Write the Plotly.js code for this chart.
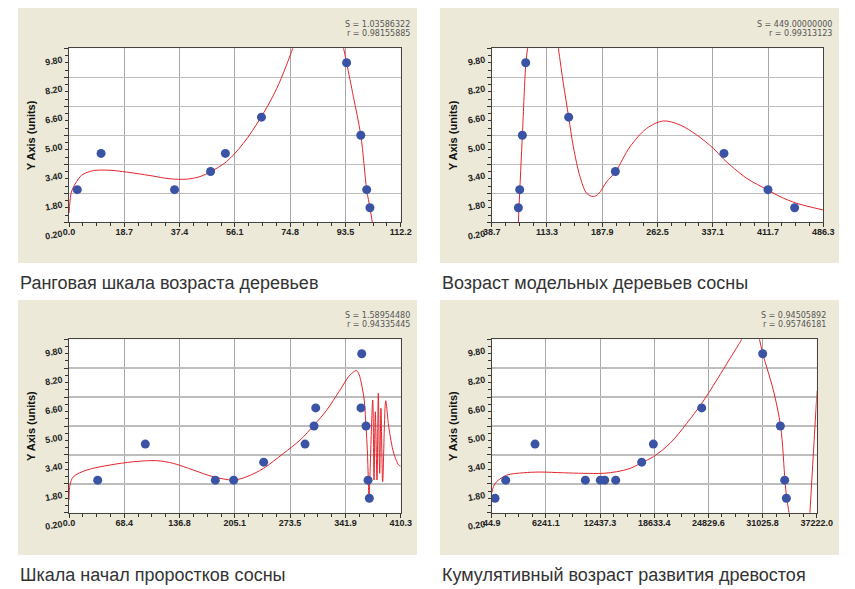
<!DOCTYPE html>
<html>
<head>
<meta charset="utf-8">
<script src="https://cdn.plot.ly/plotly-3.0.1.min.js"></script>
<style>
  html, body { margin: 0; padding: 0; background: #fff; }
  #chart { width: 855px; height: 589px; }
</style>
</head>
<body>
<div id="chart"></div>
<script>
// ---- data ----
var yTicks = ['0.20', '1.80', '3.40', '5.00', '6.60', '8.20', '9.80'];

// 1. Ранговая шкала возраста деревьев
var p1Ticks  = ['0.0', '18.7', '37.4', '56.1', '74.8', '93.5', '112.2'];
var p1X      = [2.8, 10.85, 35.7, 47.9, 52.9, 65.1, 93.9, 98.7, 100.7, 101.8];
var p1Y      = [2, 4, 2, 3, 4, 6, 9, 5, 2, 1];
var p1CurveX = [0, 0.3, 0.7, 1.5, 2.6, 4.3, 8.2, 13.9, 19.5, 27.4, 34.2, 39.8, 44.3, 47.8, 53.3, 59.0, 65.0, 70.3, 75.7, 76.5,
                null, 92.5, 93.9, 96.2, 98.7, 100.7, 101.8, 102.8];
var p1CurveY = [0.7, 1.3, 1.8, 2.15, 2.45, 2.8, 3.05, 3.07, 2.97, 2.78, 2.6, 2.58, 2.72, 2.98, 3.55, 4.56, 6.01, 7.59, 9.8, 10.2,
                null, 10.1, 9.0, 7.13, 5.0, 2.0, 1.0, 0.0];
var p1S = '1.03586322', p1R = '0.98155885';

// 2. Возраст модельных деревьев сосны
var p2Ticks  = ['38.7', '113.3', '187.9', '262.5', '337.1', '411.7', '486.3'];
var p2X      = [74.7, 76.5, 80.1, 84.6, 142.6, 205.6, 352.2, 411.6, 447.6];
var p2Y      = [1, 2, 5, 9, 6, 3, 4, 2, 1];
var p2CurveX = [74.4, 80.1, 84.9, 88.4,
                null, 127.8, 135.4, 142.6, 148.9, 157.9, 166.9, 175.9, 182.7, 193.9, 205.6, 225.4, 247.9, 270.4,
                292.9, 315.4, 337.9, 352.2, 382.8, 411.6, 427.8, 450.3, 486.3];
var p2CurveY = [0.0, 5.0, 9.0, 10.2,
                null, 10.07, 7.87, 6.0, 4.37, 2.72, 1.80, 1.62, 1.76, 2.44, 2.98, 4.37, 5.38, 5.79,
                5.57, 5.02, 4.28, 3.67, 2.63, 1.98, 1.62, 1.25, 0.88];
var p2S = '449.00000000', p2R = '0.99313123';

// 3. Шкала начал проростков сосны
var p3Ticks  = ['0.0', '68.4', '136.8', '205.1', '273.5', '341.9', '410.3'];
var p3X      = [35.5, 94.4, 181.0, 203.7, 240.8, 292.0, 303.1, 305.2, 362.1, 361.2, 367.4, 369.9, 371.5];
var p3Y      = [2, 4, 2, 2, 3, 4, 5, 6, 9, 6, 5, 2, 1];
var p3CurveX = [0, 1.2, 5.4, 21.9, 50.7, 79.6, 108.5, 129.1, 153.8, 178.6, 203.3, 219.8, 240.4, 265.2, 285.8, 303.1,
                318.8, 335.2, 347.6, 355.9, 364.0, 367.4, 369.0, 370.2, 371.0, 375.7, 377.3, 378.9, 381.0, 382.6,
                384.3, 385.9, 388.0, 391.8, 395.5, 401.7, 407.8, 410.3];
var p3CurveY = [0.9, 1.73, 2.19, 2.56, 2.84, 3.02, 3.08, 2.93, 2.56, 2.19, 2.01, 2.19, 2.65, 3.48, 4.22, 5.05,
                5.88, 6.99, 7.82, 8.06, 6.81, 4.96, 3.67, 2.10, 1.0, 6.44, 2.01, 5.79, 2.01, 6.81,
                2.38, 5.98, 1.92, 6.40, 4.96, 3.49, 2.84, 2.78];
var p3S = '1.58954480', p3R = '0.94335445';

// 4. Кумулятивный возраст развития древостоя
var p4Ticks  = ['44.9', '6241.1', '12437.3', '18633.4', '24829.6', '31025.8', '37222.0'];
var p4X      = [426, 1646, 5002, 10760, 12475, 12971, 14229, 17203, 18538, 24067, 31045, 33066, 33561, 33752];
var p4Y      = [1, 2, 4, 2, 2, 2, 2, 3, 4, 6, 9, 5, 2, 1];
var p4CurveX = [44.9, 235, 617, 1761, 3667, 5574, 8243, 10531, 12819, 14344, 15869, 17203, 18538, 20445, 22351,
                24067, 25783, 27308, 28642, 29024,
                null, 30550, 31045, 32257, 33103, 33596, 33790, 34053, 34134,
                null, 36400, 37222, 37262];
var p4CurveY = [1.27, 1.64, 1.92, 2.28, 2.41, 2.45, 2.41, 2.38, 2.38, 2.47, 2.65, 2.97, 3.30, 4.04, 5.14,
                6.25, 7.54, 8.74, 9.79, 10.13,
                null, 10.1, 9.02, 6.99, 4.96, 1.97, 1.0, 0.2, -0.11,
                null, -0.2, 6.62, 6.95];
var p4S = '0.94505892', p4R = '0.95746181';

var captions = ['Ранговая шкала возраста деревьев', 'Возраст модельных деревьев сосны',
                'Шкала начал проростков сосны', 'Кумулятивный возраст развития древостоя'];

// ---- geometry (pixels in the 855x589 picture) ----
var W = 855, H = 589;
function fx(px){ return px / W; }
function fy(py){ return 1 - py / H; }

var panels = [
	{ticks: p1Ticks, x: p1X, y: p1Y, cx: p1CurveX, cy: p1CurveY, s: p1S, r: p1R,
	 plot: [69, 48.3, 400.7, 222.3], box: [18, 8, 417, 263], capY: 283, titleX: 31},
	{ticks: p2Ticks, x: p2X, y: p2Y, cx: p2CurveX, cy: p2CurveY, s: p2S, r: p2R,
	 plot: [491.7, 48.3, 823.3, 222.3], box: [440, 8, 839, 263], capY: 283, titleX: 453},
	{ticks: p3Ticks, x: p3X, y: p3Y, cx: p3CurveX, cy: p3CurveY, s: p3S, r: p3R,
	 plot: [69, 339.3, 400.7, 512.7], box: [18, 300, 417, 555], capY: 575, titleX: 31},
	{ticks: p4Ticks, x: p4X, y: p4Y, cx: p4CurveX, cy: p4CurveY, s: p4S, r: p4R,
	 plot: [491.7, 339.3, 816.7, 512.7], box: [440, 300, 839, 555], capY: 575, titleX: 453}
];

var tickFont = {family: 'Liberation Sans, Arial, sans-serif', size: 9, color: '#222', weight: 'bold'};
var data = [];
var shapes = [];
var annotations = [];
var layout = {
	width: W, height: H,
	margin: {l: 0, r: 0, t: 0, b: 0},
	paper_bgcolor: '#ffffff',
	plot_bgcolor: 'rgba(0,0,0,0)',
	showlegend: false,
	hovermode: false
};

// gray panels first, white plot areas on top of them
panels.forEach(function(p){
	shapes.push({type: 'rect', xref: 'paper', yref: 'paper', layer: 'below',
		x0: fx(p.box[0]), x1: fx(p.box[2]), y0: fy(p.box[3]), y1: fy(p.box[1]),
		fillcolor: '#ece9d8', line: {width: 0}});
});
panels.forEach(function(p){
	shapes.push({type: 'rect', xref: 'paper', yref: 'paper', layer: 'below',
		x0: fx(p.plot[0]), x1: fx(p.plot[2]), y0: fy(p.plot[3]), y1: fy(p.plot[1]),
		fillcolor: '#ffffff', line: {width: 0}});
});

var yVals = yTicks.map(parseFloat);

panels.forEach(function(p, i){
	var n = i === 0 ? '' : String(i + 1);
	var xVals = p.ticks.map(parseFloat);

	data.push({
		x: p.cx, y: p.cy, xaxis: 'x' + n, yaxis: 'y' + n,
		mode: 'lines', connectgaps: false,
		line: {color: '#e3262d', width: 1, shape: 'spline', smoothing: 0.9}
	});
	data.push({
		x: p.x, y: p.y, xaxis: 'x' + n, yaxis: 'y' + n,
		mode: 'markers',
		marker: {size: 9, color: '#3b53a4'}
	});

	layout['xaxis' + n] = {
		domain: [fx(p.plot[0]), fx(p.plot[2])], anchor: 'y' + n,
		range: [xVals[0], xVals[xVals.length - 1]],
		tickmode: 'array', tickvals: xVals, ticktext: p.ticks,
		ticks: 'outside', ticklen: 4, tickcolor: '#333', tickwidth: 1,
		minor: {tickmode: 'linear', tick0: xVals[0], dtick: (xVals[1] - xVals[0]) / 4,
		        ticks: 'outside', ticklen: 3, tickcolor: '#333', showgrid: false},
		showgrid: true, gridcolor: '#a8a8a8', gridwidth: 1,
		showline: true, linecolor: '#444', linewidth: 1, mirror: true,
		zeroline: false, tickfont: tickFont, fixedrange: true,
		ticklabelstandoff: -3
	};
	layout['yaxis' + n] = {
		domain: [fy(p.plot[3]), fy(p.plot[1])], anchor: 'x' + n,
		range: [yVals[0], yVals[yVals.length - 1]],
		tickmode: 'array', tickvals: yVals, ticktext: yTicks,
		ticks: 'outside', ticklen: 4, tickcolor: '#333', tickwidth: 1,
		minor: {tickmode: 'linear', tick0: yVals[0], dtick: (yVals[1] - yVals[0]) / 4,
		        ticks: 'outside', ticklen: 3, tickcolor: '#333', showgrid: false},
		showgrid: true, gridcolor: '#bdbdbd', gridwidth: 1.5,
		showline: true, linecolor: '#444', linewidth: 1, mirror: true,
		zeroline: false, tickfont: tickFont, fixedrange: true,
		tickangle: -10, ticklabelshift: 11, ticklabelstandoff: 0
	};

	// S and r readouts
	var statFont = {family: 'DejaVu Sans, sans-serif', size: 8, color: '#555'};
	annotations.push({xref: 'paper', yref: 'paper', x: fx(p.plot[2] + 10), y: fy(p.plot[1] - 23.5),
		xanchor: 'right', yanchor: 'middle', showarrow: false, text: 'S = ' + p.s, font: statFont, borderpad: 0});
	annotations.push({xref: 'paper', yref: 'paper', x: fx(p.plot[2] + 10), y: fy(p.plot[1] - 14.5),
		xanchor: 'right', yanchor: 'middle', showarrow: false, text: 'r = ' + p.r, font: statFont, borderpad: 0});

	// y axis title
	annotations.push({xref: 'paper', yref: 'paper', x: fx(p.titleX), y: fy((p.plot[1] + p.plot[3]) / 2),
		xanchor: 'center', yanchor: 'middle', showarrow: false, textangle: -90,
		text: 'Y Axis (units)',
		font: {family: 'Liberation Sans, Arial, sans-serif', size: 11, color: '#111', weight: 'bold'}});

	// caption under the panel
	annotations.push({xref: 'paper', yref: 'paper', x: fx(p.box[0]), y: fy(p.capY),
		xanchor: 'left', yanchor: 'middle', showarrow: false, text: captions[i],
		font: {family: 'Liberation Sans, Arial, sans-serif', size: 18, color: '#333'}});
});

layout.shapes = shapes;
layout.annotations = annotations;

Plotly.newPlot('chart', data, layout, {staticPlot: true, displayModeBar: false});
</script>
</body>
</html>
